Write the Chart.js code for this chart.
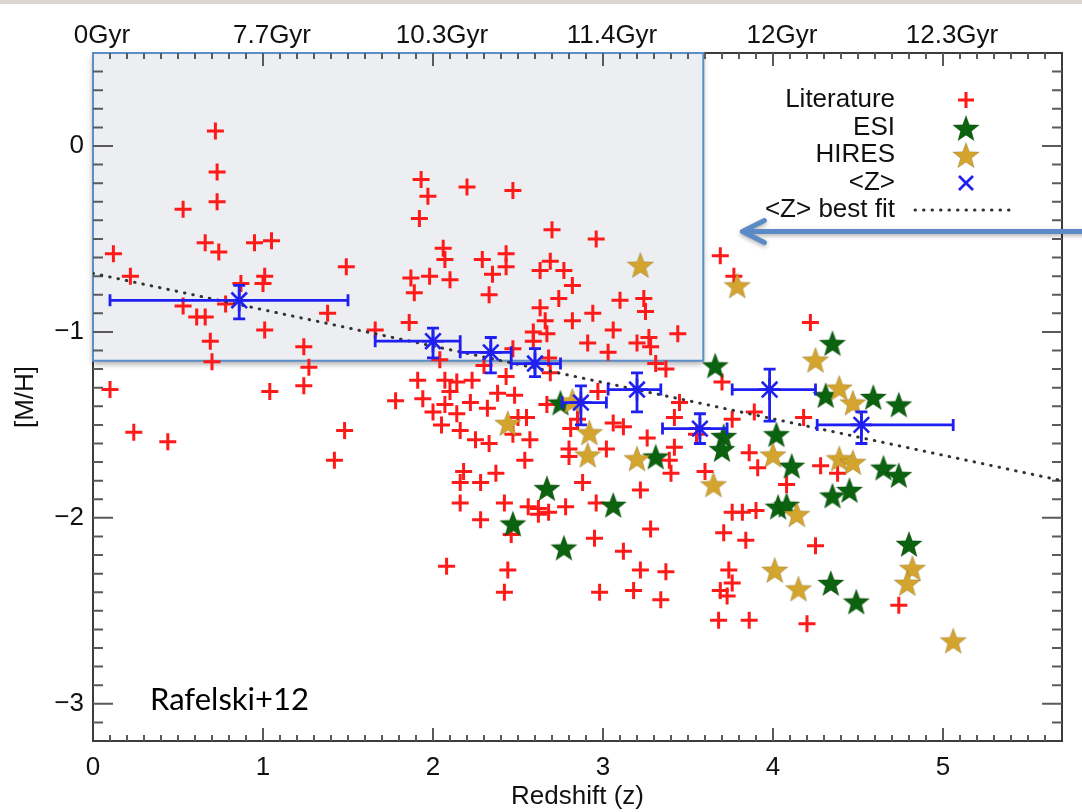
<!DOCTYPE html>
<html>
<head>
<meta charset="utf-8">
<title>[M/H] vs redshift</title>
<script src="https://cdn.jsdelivr.net/npm/chart.js@4.4.1/dist/chart.umd.min.js"></script>
<style>
  html, body { margin: 0; padding: 0; background: #fff; }
  #wrap { position: relative; width: 1082px; height: 812px; }
  #strip { position: absolute; left: 0; top: 0; width: 1082px; height: 4px; background: #dad6d2; }
  canvas { display: block; }
</style>
</head>
<body>
<div id="wrap">
  <canvas id="metalChart" width="1082" height="812"></canvas>
  <div id="strip"></div>
</div>
<script>
// axis ticks
const xTicks = [0, 1, 2, 3, 4, 5];
const xTickLabels = ['0', '1', '2', '3', '4', '5'];
const ageLabels = ['0Gyr', '7.7Gyr', '10.3Gyr', '11.4Gyr', '12Gyr', '12.3Gyr'];
const yTicks = [-3, -2, -1, 0];
const yTickLabels = ['\u22123', '\u22122', '\u22121', '0'];

// [z, [M/H]] pairs
const literature = [
  [0.72, 0.08], [0.73, -0.14], [0.73, -0.30], [0.53, -0.34], [0.12, -0.58], [0.66, -0.52], [0.74, -0.57], [0.95, -0.52], [1.05, -0.51], [1.49, -0.65],
  [0.22, -0.70], [1.01, -0.70], [1.00, -0.74], [0.87, -0.74], [0.53, -0.86], [0.61, -0.92], [0.66, -0.92], [0.78, -0.85], [1.38, -0.90], [1.01, -0.99],
  [1.66, -0.99], [0.69, -1.05], [1.24, -1.08], [0.70, -1.16], [1.27, -1.19], [0.10, -1.31], [1.04, -1.32], [1.24, -1.29], [0.24, -1.54], [0.44, -1.59],
  [1.48, -1.53], [1.42, -1.69],
  [1.86, -0.95], [1.93, -0.18], [1.97, -0.27], [1.92, -0.39], [2.20, -0.22], [2.47, -0.24], [2.70, -0.45], [2.96, -0.50],
  [2.06, -0.55], [2.07, -0.61], [1.87, -0.71], [1.98, -0.70], [2.10, -0.72], [1.89, -0.79], [2.29, -0.61], [2.43, -0.58], [2.43, -0.65], [2.35, -0.69],
  [2.33, -0.80], [2.63, -0.67], [2.69, -0.62], [2.77, -0.67], [2.82, -0.75], [2.74, -0.82], [2.63, -0.87], [2.66, -0.94], [2.67, -1.01], [2.59, -1.00],
  [2.59, -1.05], [2.82, -0.94], [2.94, -0.90], [3.10, -0.83], [3.24, -0.82], [3.25, -0.89], [3.06, -0.99], [2.91, -1.06], [3.03, -1.11], [3.20, -1.06],
  [3.27, -1.03], [3.28, -1.08], [3.44, -1.01], [2.47, -1.09], [2.04, -1.15], [2.68, -1.14], [2.30, -1.18], [3.31, -1.17], [3.37, -1.20], [3.69, -0.59],
  [3.77, -0.70], [4.22, -0.95],
  [1.91, -1.26], [2.07, -1.26], [2.14, -1.27], [2.23, -1.26], [2.10, -1.32], [1.78, -1.37], [1.94, -1.36], [2.07, -1.39], [2.22, -1.38], [2.32, -1.41],
  [2.38, -1.33], [2.48, -1.34], [2.43, -1.24], [2.00, -1.43], [2.14, -1.44], [2.05, -1.50], [2.16, -1.53], [2.25, -1.58], [2.33, -1.60], [2.55, -1.46],
  [2.50, -1.46], [2.57, -1.58], [2.47, -1.55], [2.54, -1.69], [2.67, -1.39], [2.81, -1.52], [2.80, -1.63], [2.80, -1.67], [2.85, -1.47], [2.97, -1.32],
  [3.02, -1.63], [3.06, -1.49], [3.12, -1.51], [3.26, -1.57], [3.42, -1.46], [3.42, -1.62], [3.39, -1.69], [3.40, -1.76], [3.45, -1.38], [3.60, -1.75],
  [2.18, -1.75], [2.16, -1.81], [2.28, -1.81], [2.37, -1.76], [2.16, -1.92], [2.28, -2.01], [2.42, -1.92], [2.56, -1.94], [2.62, -1.95], [2.62, -1.98],
  [2.68, -1.97], [2.78, -1.94], [2.88, -1.81], [2.96, -1.92], [3.22, -1.85], [3.28, -2.06], [2.95, -2.11], [3.12, -2.18], [2.46, -2.09], [2.08, -2.26],
  [2.44, -2.28], [2.42, -2.40], [3.22, -2.28], [3.37, -2.29], [2.98, -2.40], [3.18, -2.39], [3.34, -2.44], [2.69, -1.22],
  [3.70, -1.27], [3.89, -1.43], [3.76, -1.47], [4.18, -1.46], [3.55, -1.55], [3.86, -1.65], [3.91, -1.73], [4.28, -1.72], [4.38, -1.76], [4.08, -1.82],
  [3.76, -1.97], [3.82, -1.97], [3.90, -1.96], [4.74, -2.47], [4.25, -2.15], [4.20, -2.57], [3.86, -2.55], [3.68, -2.55], [3.84, -2.12], [3.71, -2.08],
  [3.74, -2.28], [3.76, -2.35], [3.69, -2.39], [3.73, -2.42]
];

const esi = [
  [2.75, -1.38], [2.67, -1.84], [3.06, -1.93], [2.47, -2.03], [2.77, -2.16], [3.31, -1.67], [3.66, -1.18], [4.35, -1.06],
  [4.31, -1.34], [4.59, -1.35], [4.74, -1.39], [3.71, -1.56], [3.70, -1.63], [4.02, -1.55], [4.11, -1.72], [4.65, -1.73],
  [4.74, -1.77], [4.35, -1.88], [4.45, -1.85], [4.03, -1.94], [4.08, -1.93], [4.80, -2.14], [4.34, -2.35], [4.49, -2.45]
];

const hires = [
  [3.22, -0.64], [3.79, -0.75], [2.82, -1.37], [2.92, -1.54], [2.91, -1.66], [2.44, -1.49], [3.20, -1.68], [4.25, -1.15],
  [4.39, -1.30], [4.47, -1.38], [3.65, -1.82], [4.00, -1.66], [4.39, -1.68], [4.47, -1.70], [4.14, -1.98], [4.82, -2.27],
  [4.79, -2.35], [4.01, -2.28], [4.15, -2.38], [5.06, -2.66]
];

// binned mean metallicity with bin widths and errors
const meanZ   = [0.86, 2.00, 2.34, 2.60, 2.87, 3.20, 3.57, 3.98, 4.52];
const meanM   = [-0.83, -1.05, -1.11, -1.17, -1.38, -1.31, -1.52, -1.31, -1.50];
const meanZLo = [0.10, 1.66, 2.16, 2.46, 2.76, 3.03, 3.35, 3.76, 4.26];
const meanZHi = [1.50, 2.16, 2.46, 2.75, 3.02, 3.34, 3.73, 4.25, 5.06];
const meanMLo = [-0.93, -1.14, -1.22, -1.24, -1.50, -1.43, -1.60, -1.48, -1.60];
const meanMHi = [-0.75, -0.98, -1.03, -1.09, -1.29, -1.22, -1.44, -1.20, -1.43];

// linear fit to the means
const fitZ = [0, 5.7];
const fitM = [-0.685, -1.80];

// highlighted region and pointer
const boxZ = [0, 3.59];
const boxM = [0.5, -1.155];
const arrowTip = [3.82, -0.46];

const FONT = "'Liberation Sans', Arial, Helvetica, sans-serif";
const RED = '#ff1a1a', GREEN = '#0b620f', GOLD = '#d4a52e', BLUE = '#1f1ff2';

function starImage(fill, r) {
  const c = document.createElement('canvas');
  const s = Math.ceil(r * 2 + 4);
  c.width = c.height = s;
  const g = c.getContext('2d');
  g.translate(s / 2, s / 2 + r * 0.1);
  g.beginPath();
  for (let i = 0; i < 10; i++) {
    const rad = i % 2 ? r * 0.42 : r;
    const a = -Math.PI / 2 + i * Math.PI / 5;
    g.lineTo(rad * Math.cos(a), rad * Math.sin(a));
  }
  g.closePath();
  g.fillStyle = fill;
  g.fill();
  g.strokeStyle = 'rgba(0,0,0,0.15)';
  g.lineWidth = 1;
  g.stroke();
  return c;
}
const greenStar = starImage(GREEN, 13.9);
const goldStar = starImage(GOLD, 13.9);

const toPoints = (pairs) => pairs.map(([z, m]) => ({ x: z, y: m }));

// frame, shaded region and inward tick marks
const frameBox = {
  id: 'frameBox',
  beforeDatasetsDraw(chart) {
    const { ctx, chartArea: a, scales: { x, y } } = chart;
    ctx.save();
    ctx.strokeStyle = '#3c3c3c';
    ctx.lineWidth = 2;
    ctx.strokeRect(a.left, a.top, a.right - a.left, a.bottom - a.top);

    const bx0 = x.getPixelForValue(boxZ[0]), bx1 = x.getPixelForValue(boxZ[1]);
    const by0 = y.getPixelForValue(boxM[0]), by1 = y.getPixelForValue(boxM[1]);
    ctx.shadowColor = 'rgba(0,0,0,0.35)';
    ctx.shadowBlur = 6;
    ctx.shadowOffsetY = 3;
    ctx.fillStyle = '#eceef1';
    ctx.fillRect(bx0, by0, bx1 - bx0, by1 - by0);
    ctx.shadowColor = 'transparent';
    ctx.strokeStyle = '#5b8fc9';
    ctx.lineWidth = 2;
    ctx.strokeRect(bx0, by0, bx1 - bx0, by1 - by0);

    ctx.strokeStyle = '#5a5a5a';
    ctx.lineWidth = 2;
    ctx.beginPath();
    for (let i = 1; i <= 56; i++) {
      const px = x.getPixelForValue(i / 10);
      const len = i % 10 === 0 ? 13 : 6;
      ctx.moveTo(px, a.bottom); ctx.lineTo(px, a.bottom - len);
      ctx.moveTo(px, a.top); ctx.lineTo(px, a.top + len);
    }
    for (let i = -31; i <= 4; i++) {
      const py = y.getPixelForValue(i / 10);
      const len = i % 10 === 0 ? 20 : 10;
      ctx.moveTo(a.left, py); ctx.lineTo(a.left + len, py);
      ctx.moveTo(a.right, py); ctx.lineTo(a.right - len, py);
    }
    ctx.stroke();
    ctx.restore();
  }
};

// error bars, legend, labels and pointer arrow
const overlay = {
  id: 'overlay',
  afterDatasetsDraw(chart) {
    const { ctx, chartArea: a, scales: { x, y } } = chart;
    ctx.save();
    ctx.strokeStyle = BLUE;
    ctx.lineWidth = 2.8;
    ctx.beginPath();
    meanZ.forEach((z, i) => {
      const cx = x.getPixelForValue(z), cy = y.getPixelForValue(meanM[i]);
      const xl = x.getPixelForValue(meanZLo[i]), xr = x.getPixelForValue(meanZHi[i]);
      const yt = y.getPixelForValue(meanMHi[i]), yb = y.getPixelForValue(meanMLo[i]);
      ctx.moveTo(xl, cy); ctx.lineTo(xr, cy);
      ctx.moveTo(xl, cy - 6); ctx.lineTo(xl, cy + 6);
      ctx.moveTo(xr, cy - 6); ctx.lineTo(xr, cy + 6);
      ctx.moveTo(cx, yt); ctx.lineTo(cx, yb);
      ctx.moveTo(cx - 6, yt); ctx.lineTo(cx + 6, yt);
      ctx.moveTo(cx - 6, yb); ctx.lineTo(cx + 6, yb);
    });
    ctx.stroke();

    // legend
    const tx = a.right - 167, mx = a.right - 96;
    const rows = [a.top + 47, a.top + 75, a.top + 102, a.top + 130, a.top + 157];
    ctx.font = '26px ' + FONT;
    ctx.fillStyle = '#111';
    ctx.textAlign = 'right';
    ctx.textBaseline = 'middle';
    ['Literature', 'ESI', 'HIRES', '<Z>', '<Z> best fit'].forEach((t, i) => ctx.fillText(t, tx, rows[i]));
    ctx.strokeStyle = RED;
    ctx.lineWidth = 3;
    ctx.beginPath();
    ctx.moveTo(mx - 8, rows[0]); ctx.lineTo(mx + 8, rows[0]);
    ctx.moveTo(mx, rows[0] - 8); ctx.lineTo(mx, rows[0] + 8);
    ctx.stroke();
    ctx.drawImage(greenStar, mx - greenStar.width / 2, rows[1] - greenStar.height / 2);
    ctx.drawImage(goldStar, mx - goldStar.width / 2, rows[2] - goldStar.height / 2);
    ctx.strokeStyle = BLUE;
    ctx.lineWidth = 2.8;
    ctx.beginPath();
    ctx.moveTo(mx - 7, rows[3] - 7); ctx.lineTo(mx + 7, rows[3] + 7);
    ctx.moveTo(mx + 7, rows[3] - 7); ctx.lineTo(mx - 7, rows[3] + 7);
    ctx.stroke();
    ctx.strokeStyle = '#333';
    ctx.lineWidth = 3;
    ctx.lineCap = 'round';
    ctx.setLineDash([0.5, 8]);
    ctx.beginPath();
    ctx.moveTo(mx - 51, rows[4]); ctx.lineTo(mx + 51, rows[4]);
    ctx.stroke();
    ctx.setLineDash([]);

    // citation
    ctx.font = "31px Lato, 'Open Sans', sans-serif";
    ctx.textAlign = 'left';
    ctx.textBaseline = 'alphabetic';
    ctx.fillStyle = '#000';
    ctx.fillText('Rafelski+12', a.left + 57, a.bottom - 31);

    // pointer arrow
    const ax = x.getPixelForValue(arrowTip[0]), ay = y.getPixelForValue(arrowTip[1]);
    ctx.shadowColor = 'rgba(0,0,0,0.3)';
    ctx.shadowBlur = 4;
    ctx.shadowOffsetY = 2;
    ctx.strokeStyle = '#5b8ac6';
    ctx.lineWidth = 5;
    ctx.lineCap = 'round';
    ctx.lineJoin = 'round';
    ctx.beginPath();
    ctx.moveTo(chart.width + 5, ay); ctx.lineTo(ax + 2, ay);
    ctx.moveTo(ax + 22, ay - 11); ctx.lineTo(ax, ay); ctx.lineTo(ax + 22, ay + 11);
    ctx.stroke();
    ctx.restore();
  }
};

Chart.defaults.font.family = FONT;
Chart.defaults.color = '#111';

new Chart(document.getElementById('metalChart'), {
  type: 'scatter',
  data: {
    datasets: [
      {
        label: '<Z>', data: meanZ.map((z, i) => ({ x: z, y: meanM[i] })),
        pointStyle: 'star', pointRadius: 11, borderColor: BLUE, backgroundColor: BLUE, borderWidth: 2.6, order: 1
      },
      {
        label: '<Z> best fit', data: fitZ.map((z, i) => ({ x: z, y: fitM[i] })), showLine: true,
        borderColor: '#333', borderWidth: 3, borderDash: [0.5, 8], borderCapStyle: 'round', pointRadius: 0, order: 2
      },
      { label: 'HIRES', data: toPoints(hires), pointStyle: goldStar, pointRadius: 14, order: 3 },
      { label: 'ESI', data: toPoints(esi), pointStyle: greenStar, pointRadius: 14, order: 4 },
      {
        label: 'Literature', data: toPoints(literature),
        pointStyle: 'cross', pointRadius: 8.5, borderColor: RED, backgroundColor: RED, borderWidth: 3, order: 5
      }
    ]
  },
  options: {
    responsive: false,
    animation: false,
    devicePixelRatio: 1,
    layout: { padding: { left: 0, right: 20, top: 0, bottom: 0 } },
    plugins: { legend: { display: false }, tooltip: { enabled: false } },
    scales: {
      x: {
        type: 'linear', position: 'bottom', min: 0, max: 5.7,
        grid: { display: false, drawTicks: false }, border: { display: false },
        afterBuildTicks: (s) => { s.ticks = xTicks.map((v) => ({ value: v })); },
        afterFit: (s) => { s.height = 71; },
        ticks: { padding: 11, font: { size: 26 }, callback: (v, i) => xTickLabels[i] },
        title: { display: true, text: 'Redshift (z)', font: { size: 26 }, padding: { top: 0, bottom: 0 } }
      },
      x2: {
        type: 'linear', position: 'top', min: 0, max: 5.7,
        grid: { display: false, drawTicks: false }, border: { display: false },
        afterBuildTicks: (s) => { s.ticks = xTicks.map((v) => ({ value: v })); },
        afterFit: (s) => { s.height = 53; },
        ticks: { padding: 2, labelOffset: 9, font: { size: 26 }, callback: (v, i) => ageLabels[i] }
      },
      y: {
        type: 'linear', position: 'left', min: -3.2, max: 0.5,
        grid: { display: false, drawTicks: false }, border: { display: false },
        afterBuildTicks: (s) => { s.ticks = yTicks.map((v) => ({ value: v })); },
        afterFit: (s) => { s.width = 93; },
        ticks: { padding: 9, font: { size: 26 }, callback: (v, i) => yTickLabels[i] },
        title: { display: true, text: '[M/H]', font: { size: 26 }, padding: { top: 10, bottom: 0 } }
      }
    }
  },
  plugins: [frameBox, overlay]
});
</script>
</body>
</html>
